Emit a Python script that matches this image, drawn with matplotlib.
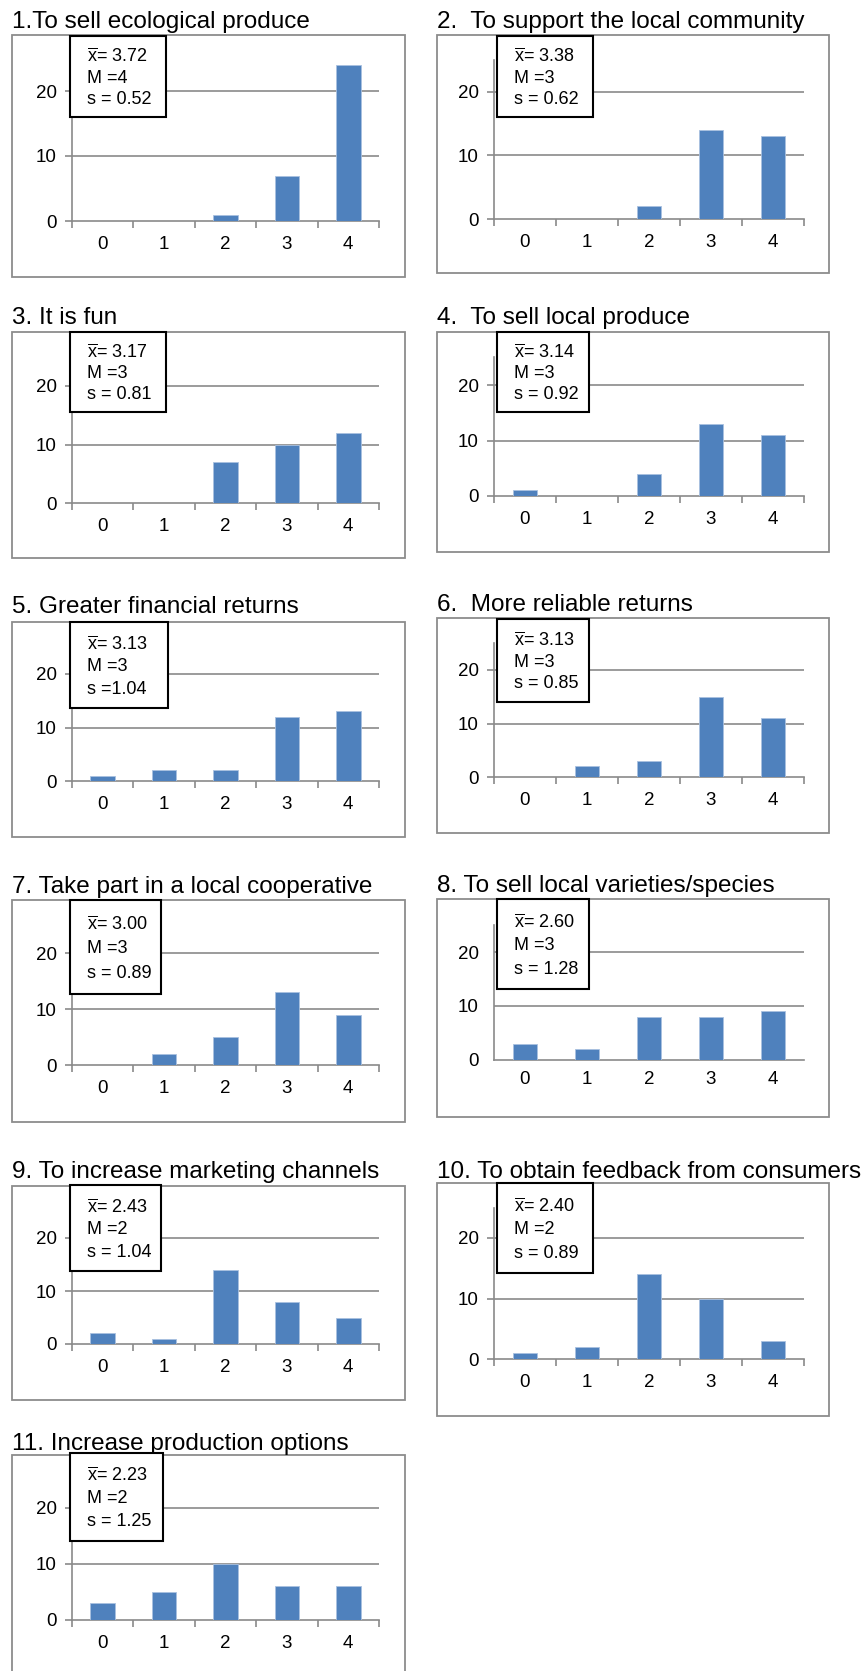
import matplotlib
matplotlib.use("Agg")
import matplotlib.pyplot as plt
from matplotlib.patches import Rectangle

plt.rcParams["font.family"] = ["Liberation Sans", "DejaVu Sans"]
plt.rcParams["mathtext.fontset"] = "custom"
plt.rcParams["mathtext.rm"] = "Liberation Sans"

# ---- data ----
categories = [0, 1, 2, 3, 4]
titles = [
    "1.To sell ecological produce",
    "2.  To support the local community",
    "3. It is fun",
    "4.  To sell local produce",
    "5. Greater financial returns",
    "6.  More reliable returns",
    "7. Take part in a local cooperative",
    "8. To sell local varieties/species",
    "9. To increase marketing channels",
    "10. To obtain feedback from consumers",
    "11. Increase production options",
]
counts = [
    [0, 0, 1, 7, 24],
    [0, 0, 2, 14, 13],
    [0, 0, 7, 10, 12],
    [1, 0, 4, 13, 11],
    [1, 2, 2, 12, 13],
    [0, 2, 3, 15, 11],
    [0, 2, 5, 13, 9],
    [3, 2, 8, 8, 9],
    [2, 1, 14, 8, 5],
    [1, 2, 14, 10, 3],
    [3, 5, 10, 6, 6],
]
means = ["3.72", "3.38", "3.17", "3.14", "3.13", "3.13", "3.00", "2.60", "2.43", "2.40", "2.23"]
medians = ["4", "3", "3", "3", "3", "3", "3", "3", "2", "2", "2"]
sd_labels = ["s = 0.52", "s = 0.62", "s = 0.81", "s = 0.92", "s =1.04", "s = 0.85",
             "s = 0.89", "s = 1.28", "s = 1.04", "s = 0.89", "s = 1.25"]

# ---- layout in pixels of the 865x1671 image ----
W, H = 865, 1671
BAR = "#4f81bd"
GRID = "#8a8a8a"
# column: outer box x0, x1, axis x0, x1, stat box x0
cols = {"L": (12, 405, 72, 379, 70), "R": (437, 829, 494, 804, 497)}
# col, box top, box bottom, y of 0, y of 20, title centre, stat top, stat bottom, stat right, ticks
layout = [
    ("L", 35, 277, 221, 91, 20, 36, 117, 166, True),
    ("R", 35, 273, 219, 92, 20, 36, 117, 593, True),
    ("L", 332, 558, 503, 386, 316, 332, 412, 166, True),
    ("R", 332, 552, 496, 385, 316, 332, 412, 589, True),
    ("L", 622, 837, 781, 674, 605, 622, 708, 168, True),
    ("R", 618, 833, 777, 670, 603, 619, 702, 589, True),
    ("L", 900, 1122, 1065, 953, 885, 900, 994, 161, True),
    ("R", 899, 1117, 1060, 952, 884, 899, 989, 589, False),
    ("L", 1186, 1400, 1344, 1238, 1170, 1185, 1271, 161, True),
    ("R", 1183, 1416, 1359, 1238, 1170, 1183, 1273, 593, True),
    ("L", 1455, 1675, 1620, 1508, 1442, 1453, 1541, 163, True),
]


def fx(x):
    return x / W


def fy(y):
    return 1 - y / H


fig = plt.figure(figsize=(W / 100, H / 100), dpi=100)

for i, (col, btop, bbot, y0, y20, ty, stop, sbot, sright, ticks) in enumerate(layout):
    bx0, bx1, ax0, ax1, sx0 = cols[col]

    # outer chart frame
    fig.add_artist(Rectangle((fx(bx0), fy(bbot)), fx(bx1 - bx0), (bbot - btop) / H,
                             transform=fig.transFigure, fill=False,
                             edgecolor="#8c8c8c", lw=1.3, zorder=1))
    fig.text(fx(bx0), fy(ty + 8), titles[i], fontsize=17.5, va="baseline", ha="left")

    # plot area spans 0..25
    y25 = y0 - 1.25 * (y0 - y20)
    ax = fig.add_axes([fx(ax0), fy(y0), fx(ax1 - ax0), (y0 - y25) / H])
    ax.set_facecolor("none")
    ax.bar(categories, counts[i], width=0.4, color=BAR, edgecolor="#a9c1e0", lw=0.6, zorder=3)
    ax.set_xlim(-0.5, 4.5)
    ax.set_ylim(0, 25)
    for v in (10, 20):
        ax.axhline(v, color=GRID, lw=1.2, zorder=1)
    for s in ("top", "right"):
        ax.spines[s].set_visible(False)
    for s in ("left", "bottom"):
        ax.spines[s].set_color(GRID)
        ax.spines[s].set_linewidth(1.2)

    ax.set_yticks([0, 10, 20])
    ax.set_xticks([c - 0.5 for c in categories] + [4.5])
    ax.set_xticklabels([])
    ax.set_xticks(categories, minor=True)
    ax.set_xticklabels([str(c) for c in categories], minor=True)
    tl = 5 if ticks else 0
    ax.tick_params(axis="x", which="major", length=tl, width=1.2, color=GRID, direction="out")
    ax.tick_params(axis="x", which="minor", length=0, labelsize=13.5, pad=11 if ticks else 8)
    ax.tick_params(axis="y", length=tl, width=1.2, color=GRID, labelsize=13.5, pad=6 if ticks else 11)

    # statistics box
    fig.add_artist(Rectangle((fx(sx0), fy(sbot)), fx(sright - sx0), (sbot - stop) / H,
                             transform=fig.transFigure, facecolor="white",
                             edgecolor="black", lw=1.5, zorder=5))
    hgt = sbot - stop
    lines = [r"$\overline{\mathrm{x}}$= " + means[i], "M =" + medians[i], sd_labels[i]]
    for k, frac in enumerate((0.26, 0.52, 0.78)):
        fig.text(fx(sx0 + 17), fy(stop + frac * hgt), lines[k], fontsize=13,
                 va="center", ha="left", zorder=6)

fig.savefig("out.png", dpi=100)
